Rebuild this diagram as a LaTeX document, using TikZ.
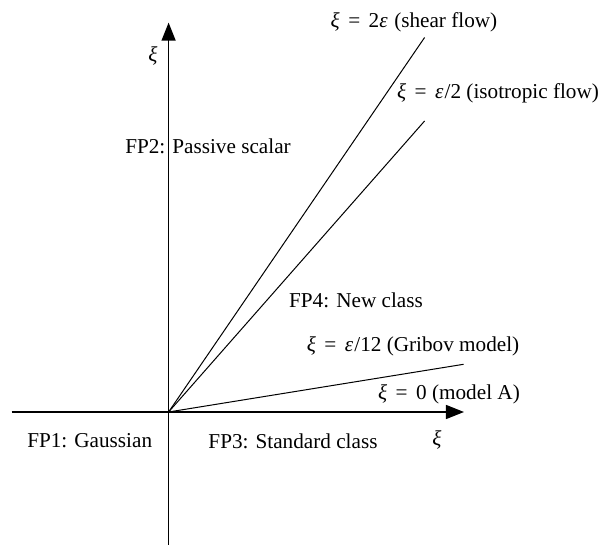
\documentclass[tikz,border=0pt]{standalone}
\usepackage{fontspec}
\setmainfont{Liberation Serif}
\usetikzlibrary{arrows.meta,positioning,calc}
\newcommand{\grxi}{\textit{ξ}}
\newcommand{\greps}{\textit{ε}\kern0.06em}
\newcommand{\eqsign}{\hspace{0.4em}=\hspace{0.4em}}
\tikzset{
    axisline/.style={
        line width=0.6pt,                       % ejes un poco más gruesos
        -{Triangle[length=9pt,width=7pt]}       % punta triangular rellena
    },
    rayline/.style={
        line width=0.5pt                        % rectas de puntos fijos, finas
    },
    regionlabel/.style={
        inner sep=1pt,
        font=\fontsize{10.6pt}{13pt}\selectfont % mismo tamaño para todas las etiquetas
    }
}
\begin{document}
\begin{tikzpicture}[x=0.5pt,y=0.5pt]
    \useasboundingbox (-168.6,-133) rectangle (432.4,412);

    \coordinate (O) at (0,0);
    \coordinate (xleft) at (-157,0);
    \coordinate (xtip) at (295.4,0);
    \coordinate (ybottom) at (0,-133);
    \coordinate (ytip) at (0,389.4);
    \coordinate (shearend) at (256,374.5);
    \coordinate (isoend) at (256,291);
    \coordinate (gribovend) at (295,47.7);

    \node[regionlabel] (fptwo) at (39.4,266) {FP2: Passive scalar};
    \node[regionlabel] (fpfour) at (187.4,111.3) {FP4: New class};
    \node[regionlabel] (fpone) at (-78.9,-29) {FP1: Gaussian};
    \node[regionlabel] (fpthree) at (124.4,-29) {FP3: Standard class};

    \node[regionlabel] (shearlab) at (245.4,389.4) {\grxi\eqsign2\greps\ (shear flow)};
    \node[regionlabel] (isolab) at (329.4,319) {\grxi\eqsign\greps/2 (isotropic flow)};
    \node[regionlabel] (gribovlab) at (244.4,66) {\grxi\eqsign\greps/12 (Gribov model)};
    \node[regionlabel] (modelalab) at (280.4,17.5) {\grxi\eqsign0 (model A)};

    \node[regionlabel] (yname) at (-15.6,356.4) {\grxi};
    \node[regionlabel] (xname) at (268.4,-28) {\grxi};

    \draw[axisline] (xleft) -- (xtip);
    \draw[axisline] (ybottom) -- (ytip);

    \draw[rayline] (O) -- (shearend);
    \draw[rayline] (O) -- (isoend);
    \draw[rayline] (O) -- (gribovend);
\end{tikzpicture}
\end{document}
